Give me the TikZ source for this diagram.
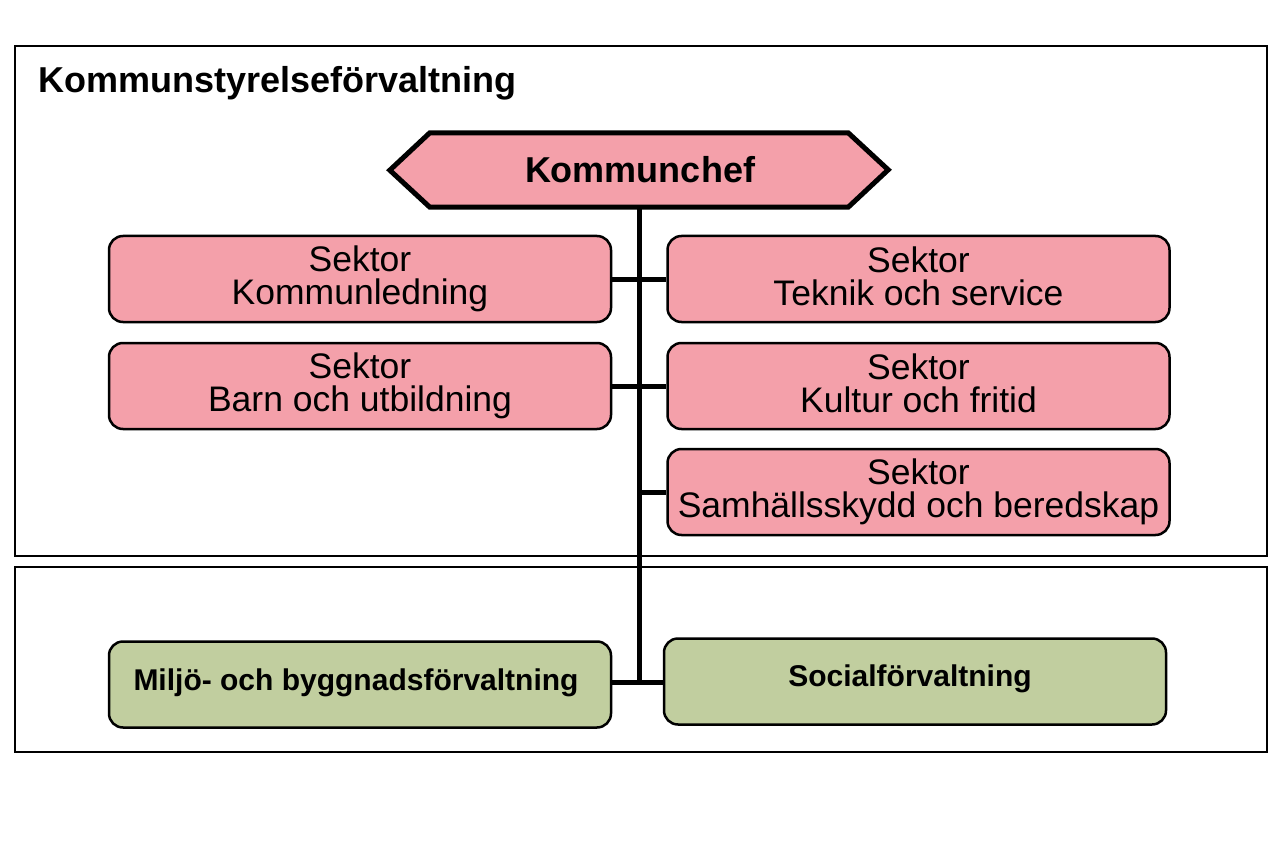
\documentclass[tikz,border=0pt]{standalone}
\usepackage{fontspec}
\setmainfont{Liberation Sans}
\definecolor{pinkfill}{RGB}{244,160,170}
\definecolor{greenfill}{RGB}{193,206,159}
\newcommand{\dstrut}{\rule[-6pt]{0pt}{1pt}}
\begin{document}
\begin{tikzpicture}[x=1pt,y=-1pt,
  frame/.style={draw=black,line width=2pt},
  sektor/.style={draw=black,line width=2.5pt,fill=pinkfill,rounded corners=14pt,
    minimum width=502pt,minimum height=86pt,inner sep=0pt,align=center,
    font=\fontsize{35.5}{33}\selectfont},
  forv/.style={draw=black,line width=2.5pt,fill=greenfill,rounded corners=14pt,
    minimum width=502pt,minimum height=86pt,inner sep=0pt},
  forvtext/.style={font=\fontsize{30}{32}\selectfont\bfseries,inner sep=0pt},
  conn/.style={draw=black,line width=5pt},
]
\useasboundingbox[fill=white] (0,0) rectangle (1280,853);
% frames
\draw[frame] (15,46) rectangle (1267,556);
\draw[frame] (15,567) rectangle (1267,752);
\node[anchor=base west,inner sep=0pt,font=\fontsize{36}{40}\selectfont\bfseries] (title) at (38,93) {Kommunstyrelseförvaltning};
% Kommunchef
\node[minimum width=418pt,minimum height=74pt,inner sep=0pt] (kc) at (639,170) {};
\draw[line width=5pt,fill=pinkfill,line join=miter]
  (kc.north west) -- (kc.north east) -- ++(40,37) -- (kc.south east) -- (kc.south west) -- ++(-40,-37) -- cycle;
\node[font=\fontsize{36}{40}\selectfont\bfseries,inner sep=0pt] (kct) at ([xshift=1pt]kc.center) {Kommunchef};
% sektor boxes
\node[sektor] (kl) at (360,279) {Sektor\\Kommunledning\dstrut};
\node[sektor] (bu) at (360,386) {Sektor\\Barn och utbildning\dstrut};
\node[sektor] (ts) at (918.5,279) {Sektor\\Teknik och service\dstrut};
\node[sektor] (kf) at (918.5,386) {Sektor\\Kultur och fritid\dstrut};
\node[sektor] (sb) at (918.5,492) {Sektor\\Samhällsskydd och beredskap\dstrut};
% green boxes
\node[forv] (mb) at (360,684.5) {};
\node[forvtext] (mbt) at ([xshift=-4pt,yshift=2pt]mb.center) {Miljö- och byggnadsförvaltning};
\node[forv] (sf) at (915,681.5) {};
\node[forvtext] (sft) at ([xshift=-5pt,yshift=3pt]sf.center) {Socialförvaltning};
% connectors
\coordinate (jg) at (639,682);
\coordinate (j3) at (639,492);
\draw[conn] (kc.south) -- (jg);
\draw[conn] (kl.east) -- (ts.west);
\draw[conn] (bu.east) -- (kf.west);
\draw[conn] (j3) -- (sb.west);
\draw[conn] (mb.east |- jg) -- (sf.west |- jg);
\end{tikzpicture}
\end{document}
